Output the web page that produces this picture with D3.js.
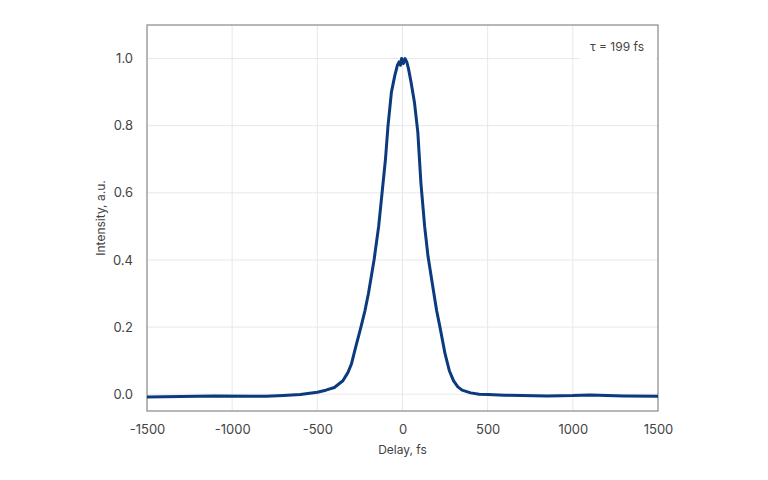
<!DOCTYPE html>
<html><head><meta charset="utf-8">
<script src="https://cdn.jsdelivr.net/npm/d3@7"></script>
<style>body{margin:0;background:#fff;font-family:Inter,"Noto Sans",sans-serif;}</style>
</head><body><div id="chart"></div>
<script>
const delay = [-1500,-1300,-1100,-900,-800,-700,-600,-500,-450,-400,-350,-320,-300,-275,-244,-220,-200,-167,-140,-120,-100,-85,-65,-45,-30,-20,-12,-5,5,15,25,35,50,70,90,108,130,150,175,200,220,250,275,300,325,350,400,450,500,600,700,850,1000,1100,1200,1300,1500];
const intensity = [-0.008,-0.007,-0.005,-0.006,-0.006,-0.004,-0.001,0.006,0.012,0.02,0.04,0.065,0.09,0.14,0.2,0.25,0.3,0.4,0.5,0.6,0.7,0.8,0.9,0.95,0.98,0.99,0.98,1.0,0.985,1.0,0.99,0.97,0.93,0.87,0.78,0.63,0.5,0.41,0.33,0.25,0.2,0.12,0.07,0.04,0.022,0.012,0.004,0.0,-0.001,-0.003,-0.004,-0.005,-0.004,-0.002,-0.004,-0.005,-0.006];
const xTicks = [-1500,-1000,-500,0,500,1000,1500];
const yTicks = [0,0.2,0.4,0.6,0.8,1.0];

const margin = {top: 25, right: 110, bottom: 69, left: 147},
    width = 768 - margin.left - margin.right,
    height = 480 - margin.top - margin.bottom;

const svg = d3.select("#chart").append("svg")
    .attr("width", 768).attr("height", 480)
  .append("g")
    .attr("transform", `translate(${margin.left},${margin.top})`);

const x = d3.scaleLinear().domain([-1500,1500]).range([0,width]);
const y = d3.scaleLinear().domain([-0.05,1.1]).range([height,0]);

// grid
svg.selectAll(".gx").data(xTicks.slice(1,-1)).enter().append("line")
  .attr("x1", d => x(d)).attr("x2", d => x(d)).attr("y1", 0).attr("y2", height)
  .attr("stroke", "#e8e8e8");
svg.selectAll(".gy").data(yTicks).enter().append("line")
  .attr("y1", d => y(d)).attr("y2", d => y(d)).attr("x1", 0).attr("x2", width)
  .attr("stroke", "#e8e8e8");

// frame
svg.append("rect").attr("width", width).attr("height", height)
  .attr("fill", "none").attr("stroke", "#888").attr("stroke-width", 1.2);

const xa = svg.append("g").attr("transform", `translate(0,${height})`)
  .call(d3.axisBottom(x).tickValues(xTicks).tickSize(0).tickPadding(14).tickFormat(d => String(d)));
const ya = svg.append("g")
  .call(d3.axisLeft(y).tickValues(yTicks).tickSize(0).tickPadding(14).tickFormat(d3.format(".1f")));
[xa, ya].forEach(a => {
  a.select(".domain").remove();
  a.selectAll("text").attr("fill", "#444").style("font-size", "13px").style("font-family", "Inter,sans-serif");
});

// label box
svg.append("rect").attr("x", width - 78).attr("y", 6).attr("width", 76).attr("height", 30).attr("fill", "#fff");
svg.append("text").attr("x", width - 14).attr("y", 26).attr("text-anchor", "end")
  .attr("fill", "#444").style("font-size", "12px").text("τ = 199 fs");

svg.append("text").attr("x", width / 2).attr("y", height + 43).attr("text-anchor", "middle")
  .attr("fill", "#444").style("font-size", "12px").text("Delay, fs");
svg.append("text").attr("transform", "rotate(-90)").attr("x", -height / 2).attr("y", -42)
  .attr("text-anchor", "middle").attr("fill", "#444").style("font-size", "12px").text("Intensity, a.u.");

svg.append("path").datum(delay.map((d, i) => [d, intensity[i]]))
  .attr("fill", "none").attr("stroke", "#0b3a7e").attr("stroke-width", 3)
  .attr("stroke-linejoin", "round")
  .attr("d", d3.line().x(d => x(d[0])).y(d => y(d[1])));
</script></body></html>
